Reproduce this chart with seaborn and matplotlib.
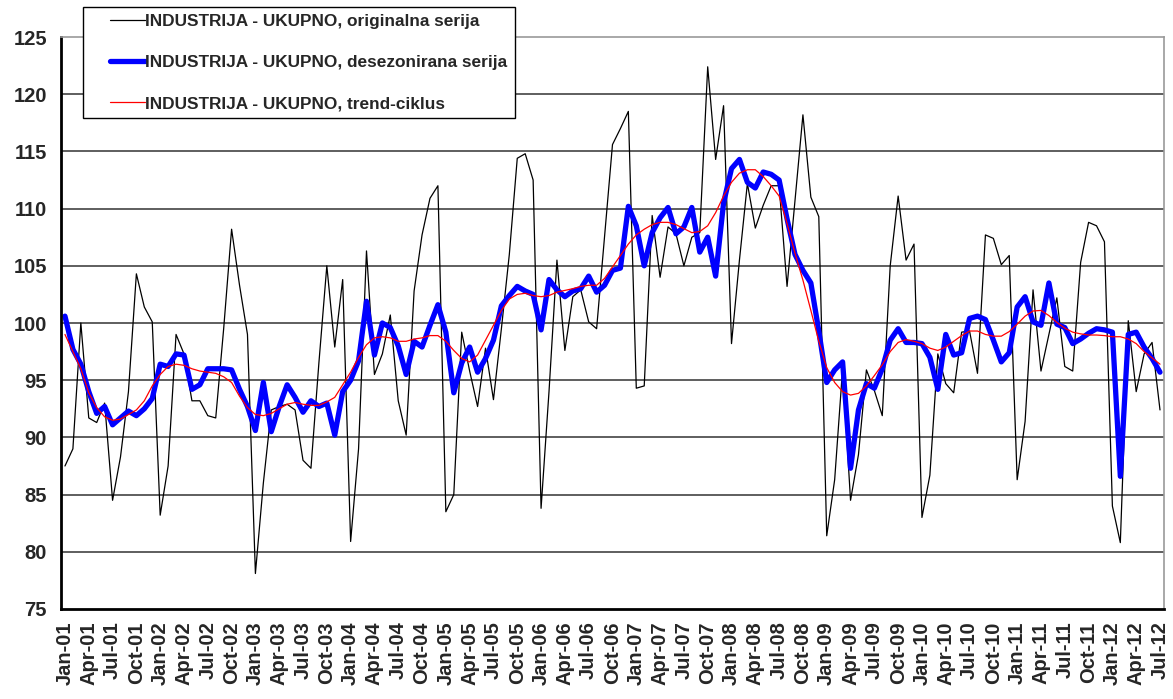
import matplotlib
matplotlib.use("Agg")
import matplotlib.pyplot as plt
from matplotlib.legend_handler import HandlerLine2D
import numpy as np
import pandas as pd
import seaborn as sns

# monthly index Jan-01 .. Jul-12
months = pd.date_range("2001-01-01", periods=139, freq="MS").strftime("%b-%y").tolist()

originalna = [
    87.5, 89.0, 100.0, 91.7, 91.3, 93.0, 84.5, 88.3, 94.0, 104.3, 101.4, 100.1,
    83.2, 87.5, 99.0, 97.3, 93.2, 93.2, 91.9, 91.7, 99.5, 108.2, 103.3, 99.0,
    78.1, 86.0, 92.4, 92.7, 92.9, 92.4, 88.0, 87.3, 96.5, 105.0, 97.9, 103.8,
    80.9, 89.0, 106.3, 95.5, 97.3, 100.7, 93.2, 90.2, 102.8, 107.7, 110.9, 112.0,
    83.5, 85.0, 99.2, 95.8, 92.7, 97.8, 93.3, 99.5, 106.0, 114.4, 114.8, 112.5,
    83.8, 94.0, 105.5, 97.6, 102.3, 102.9, 100.1, 99.5, 107.5, 115.6, 117.0, 118.5,
    94.3, 94.5, 109.4, 104.0, 108.4, 107.8, 105.0, 107.5, 107.9, 122.4, 114.3, 119.0,
    98.2, 105.5, 112.2, 108.3, 110.3, 112.0, 112.0, 103.2, 110.7, 118.2, 111.0, 109.3,
    81.4, 86.3, 96.0, 84.5, 88.5, 95.9, 94.1, 91.9, 105.0, 111.1, 105.5, 106.9,
    83.0, 86.7, 97.3, 94.7, 93.9, 99.2, 99.3, 95.6, 107.7, 107.4, 105.1, 105.9,
    86.3, 91.4, 102.9, 95.8, 99.0, 102.2, 96.2, 95.8, 105.3, 108.8, 108.5, 107.1,
    84.0, 80.8, 100.2, 94.0, 97.3, 98.3, 92.4,
]

desezonirana = [
    100.6, 97.7, 96.4, 94.0, 92.1, 92.7, 91.1, 91.7, 92.3, 91.9, 92.5, 93.4,
    96.4, 96.2, 97.3, 97.2, 94.2, 94.6, 96.0, 96.0, 96.0, 95.9, 94.2, 92.7,
    90.6, 94.8, 90.5, 92.7, 94.6, 93.5, 92.2, 93.2, 92.7, 93.0, 90.2, 94.0,
    95.0, 96.7, 101.9, 97.2, 100.0, 99.6, 98.0, 95.5, 98.4, 97.9, 99.8, 101.6,
    99.2, 93.9, 96.5, 97.9, 95.7, 96.9, 98.5, 101.5, 102.4, 103.2, 102.8, 102.5,
    99.4, 103.8, 102.9, 102.3, 102.8, 103.0, 104.1, 102.7, 103.3, 104.6, 104.8, 110.2,
    108.5, 105.0, 107.9, 109.2, 110.1, 107.8, 108.4, 110.1, 106.2, 107.5, 104.1, 110.5,
    113.5, 114.3, 112.3, 111.8, 113.2, 113.0, 112.5, 109.1, 106.0, 104.6, 103.5, 99.3,
    94.8, 95.9, 96.6, 87.3, 92.4, 94.7, 94.3, 96.0, 98.5, 99.5, 98.3, 98.3,
    98.2, 97.0, 94.2, 99.0, 97.2, 97.4, 100.4, 100.6, 100.3, 98.5, 96.6, 97.4,
    101.4, 102.3, 100.1, 99.8, 103.5, 99.9, 99.6, 98.2, 98.6, 99.1, 99.5, 99.4,
    99.2, 86.6, 99.0, 99.2, 97.9, 96.9, 95.7,
]

trend_ciklus = [
    99.0, 97.5, 96.0, 93.9, 92.6, 91.8, 91.5, 91.6, 92.0, 92.4, 93.2, 94.5,
    95.5, 96.2, 96.4, 96.3, 96.0, 95.8, 95.7, 95.6, 95.3, 94.8, 93.6, 92.6,
    92.0, 91.9, 92.1, 92.5, 92.9, 93.05, 92.9, 92.8, 92.8, 93.1, 93.5, 94.6,
    95.7, 97.0, 98.1, 98.7, 98.8, 98.7, 98.4, 98.4, 98.6, 98.7, 98.9, 98.9,
    98.4, 97.6, 96.9, 96.6, 97.2, 98.5, 99.8, 101.1, 102.1, 102.5, 102.6, 102.4,
    102.3, 102.4, 102.7, 102.85, 103.0, 103.2, 103.3, 103.3, 103.9, 104.9, 105.9, 106.9,
    107.7, 108.2, 108.6, 108.8, 108.8, 108.6, 108.25, 107.9, 108.0, 108.5, 109.65, 111.1,
    112.3, 113.1, 113.4, 113.4, 112.8, 112.0, 111.1, 108.7, 106.1, 103.75, 101.1, 98.4,
    96.1, 94.8, 94.0, 93.7, 93.85, 94.5, 95.4, 96.35, 97.5, 98.3, 98.55, 98.4,
    98.2, 97.8, 97.6, 97.9, 98.4, 98.9, 99.3, 99.3, 99.0, 98.85, 98.85, 99.25,
    99.9, 100.6, 101.05, 101.1, 100.65, 100.05, 99.55, 99.2, 99.05, 98.95, 98.95, 98.9,
    98.8, 98.8, 98.6, 98.2, 97.5, 96.95, 96.4,
]

series_names = [
    "INDUSTRIJA - UKUPNO, originalna serija",
    "INDUSTRIJA - UKUPNO, desezonirana serija",
    "INDUSTRIJA - UKUPNO, trend-ciklus",
]

df = pd.DataFrame({
    "pos": np.arange(len(months)),
    "orig": originalna,
    "sa": desezonirana,
    "trend": trend_ciklus,
})


# legend line only on the right part of the handle box (Excel-like indent)
class IndentedLine(HandlerLine2D):
    def get_xdata(self, legend, xdescent, ydescent, width, height, fontsize):
        xd = np.array([-xdescent + width * 0.35, -xdescent + width])
        return xd, xd


sns.set_style("white")
plt.rcParams["font.family"] = ["Liberation Sans", "DejaVu Sans"]
plt.rcParams["font.weight"] = "bold"

fig = plt.figure(figsize=(11.73, 6.99), dpi=100)
ax = fig.add_axes([0.052, 0.1288, 0.9403, 0.8182])

sns.lineplot(data=df, x="pos", y="orig", color="black", lw=0.9, ax=ax, label=series_names[0])
sns.lineplot(data=df, x="pos", y="sa", color="#0000FF", lw=3.8, ax=ax, label=series_names[1])
sns.lineplot(data=df, x="pos", y="trend", color="#FF0000", lw=0.9, ax=ax, label=series_names[2])

ax.set_xlim(-0.5, len(months) - 0.5)
ax.set_ylim(75, 125)
ax.set_xlabel("")
ax.set_ylabel("")

# y axis
ax.set_yticks(np.arange(75, 126, 5))
ax.tick_params(axis="y", which="major", direction="out", length=6, width=1.2,
               labelsize=14.5, pad=4, color="black")
ax.yaxis.grid(True, color="#333333", lw=1.1)
ax.set_axisbelow(True)
gl = ax.get_ygridlines()
gl[0].set_visible(False)
gl[-1].set_visible(False)

# x axis: labels every quarter, ticks between categories
ax.set_xticks(df["pos"][::3])
ax.set_xticklabels(months[::3], rotation=90, fontsize=14.5, fontweight="bold")
ax.tick_params(axis="x", which="major", length=0, pad=9)
ax.set_xticks(np.arange(-0.5, len(months) - 0.5, 3), minor=True)
ax.tick_params(axis="x", which="minor", direction="out", length=6, width=1.2, color="black")
for lab in ax.get_yticklabels():
    lab.set_fontweight("bold")

for side in ["left", "bottom"]:
    ax.spines[side].set_color("black")
    ax.spines[side].set_linewidth(2)
for side in ["top", "right"]:
    ax.spines[side].set_color("#999999")
    ax.spines[side].set_linewidth(1.2)

handles, labels = ax.get_legend_handles_labels()
leg = ax.legend(handles, labels, loc="upper left", bbox_to_anchor=(0.0708, 0.99),
                bbox_transform=fig.transFigure, handler_map={h: IndentedLine() for h in handles},
                frameon=True, fancybox=False, shadow=False, framealpha=1,
                edgecolor="black", fontsize=12.4, handlelength=3.2, handletextpad=0.0,
                labelspacing=1.5, borderpad=0.42, borderaxespad=0)
leg.get_frame().set_linewidth(1.0)
for t in leg.get_texts():
    t.set_fontweight("bold")
leg.set_zorder(10)

fig.savefig("out.png", dpi=100)
